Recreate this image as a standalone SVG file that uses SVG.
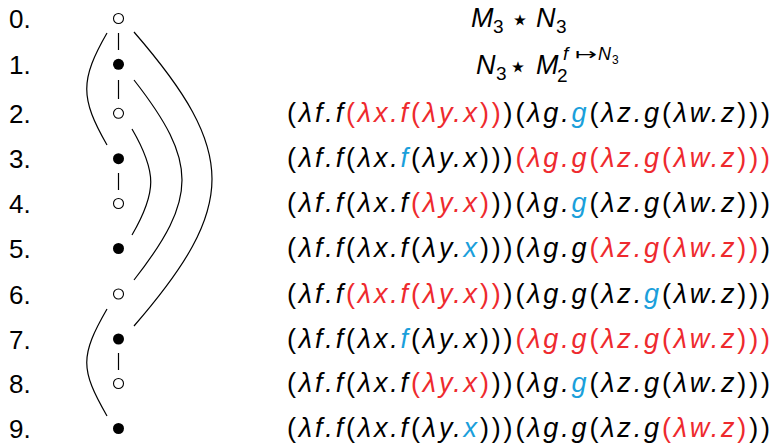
<svg xmlns="http://www.w3.org/2000/svg" width="773" height="443" viewBox="0 0 773 443">
<style>
.lbl{font-family:"Liberation Sans","DejaVu Sans",sans-serif;font-size:26px;fill:#000}
.m{font-family:"Liberation Sans","DejaVu Sans",sans-serif;font-size:27px;font-style:italic;fill:#000}
.u{font-style:normal}
.r{fill:#ee2a2e}
.b{fill:#1b9fdb}
.sub{font-family:"Liberation Sans","DejaVu Sans",sans-serif;font-size:19px;fill:#000}
.sym{font-family:"DejaVu Sans",sans-serif;font-size:31px;fill:#000}
.open{fill:#fff;stroke:#000;stroke-width:1.1}
.full{fill:#000}
.edge{fill:none;stroke:#000;stroke-width:1.2}
</style>
<rect width="773" height="443" fill="#fff"/>
<g id="labels">
<text class="lbl" x="9" y="28">0.</text>
<text class="lbl" x="9" y="74">1.</text>
<text class="lbl" x="9" y="123">2.</text>
<text class="lbl" x="9" y="168">3.</text>
<text class="lbl" x="9" y="213">4.</text>
<text class="lbl" x="9" y="258">5.</text>
<text class="lbl" x="9" y="303.5">6.</text>
<text class="lbl" x="9" y="348.5">7.</text>
<text class="lbl" x="9" y="393">8.</text>
<text class="lbl" x="9" y="438">9.</text>
</g>
<g id="connectors">
<line class="edge" x1="118.5" y1="33" x2="118.5" y2="50"/>
<line class="edge" x1="118.5" y1="80" x2="118.5" y2="99"/>
<line class="edge" x1="118.5" y1="173" x2="118.5" y2="190"/>
<line class="edge" x1="118.5" y1="353" x2="118.5" y2="370"/>
<path class="edge" d="M107,33 C80,80 80,98 107,145"/>
<path class="edge" d="M134,32 C238,152 238,206 134,326"/>
<path class="edge" d="M134,80 C198,162 198,198 134,280"/>
<path class="edge" d="M132,129 C157,172 157,192 132,235"/>
<path class="edge" d="M107,309 C80,356 80,369 107,416"/>
</g>
<g id="n0"><circle class="open" cx="118.5" cy="18.5" r="5"/></g>
<g id="n1"><circle class="full" cx="118.5" cy="64.3" r="5.5"/></g>
<g id="n2"><circle class="open" cx="118.5" cy="113.3" r="5"/></g>
<g id="n3"><circle class="full" cx="118.5" cy="158.7" r="5.5"/></g>
<g id="n4"><circle class="open" cx="118.5" cy="203.5" r="5"/></g>
<g id="n5"><circle class="full" cx="118.5" cy="248.5" r="5.5"/></g>
<g id="n6"><circle class="open" cx="118.5" cy="294" r="5"/></g>
<g id="n7"><circle class="full" cx="118.5" cy="339" r="5.5"/></g>
<g id="n8"><circle class="open" cx="118.5" cy="383.5" r="5"/></g>
<g id="n9"><circle class="full" cx="118.5" cy="428.5" r="5.5"/></g>
<g id="e0">
<text class="m" x="471" y="27">M</text>
<text class="sub" x="493" y="33">3</text>
<text class="sym" x="520" y="29.5" text-anchor="middle">⋆</text>
<text class="m" x="536" y="27">N</text>
<text class="sub" x="556" y="33">3</text>
</g>
<g id="e1">
<text class="m" x="476" y="74">N</text>
<text class="sub" x="496" y="80">3</text>
<text class="sym" x="518" y="76.5" text-anchor="middle">⋆</text>
<text class="m" x="536" y="74">M</text>
<text class="sub" x="557" y="82">2</text>
<text class="m" x="563" y="60" style="font-size:19px">f</text>
<text class="sym" x="575" y="60" style="font-size:17px" textLength="22" lengthAdjust="spacingAndGlyphs">↦</text>
<text class="m" x="598" y="60" style="font-size:18px">N</text>
<text class="sub" x="612" y="64" style="font-size:12px">3</text>
</g>
<g id="e2"><text class="m" x="287" y="122" textLength="483" lengthAdjust="spacing"><tspan class="u">(</tspan>λf.f<tspan class="r"><tspan class="u">(</tspan>λx.f<tspan class="u">(</tspan>λy.x<tspan class="u">))</tspan></tspan><tspan class="u">)(</tspan>λg.<tspan class="b">g</tspan><tspan class="u">(</tspan>λz.g<tspan class="u">(</tspan>λw.z<tspan class="u">)))</tspan></text></g>
<g id="e3"><text class="m" x="287" y="167" textLength="483" lengthAdjust="spacing"><tspan class="u">(</tspan>λf.f<tspan class="u">(</tspan>λx.<tspan class="b">f</tspan><tspan class="u">(</tspan>λy.x<tspan class="u">)))</tspan><tspan class="r"><tspan class="u">(</tspan>λg.g<tspan class="u">(</tspan>λz.g<tspan class="u">(</tspan>λw.z<tspan class="u">)))</tspan></tspan></text></g>
<g id="e4"><text class="m" x="287" y="212" textLength="483" lengthAdjust="spacing"><tspan class="u">(</tspan>λf.f<tspan class="u">(</tspan>λx.f<tspan class="r"><tspan class="u">(</tspan>λy.x<tspan class="u">)</tspan></tspan><tspan class="u">))(</tspan>λg.<tspan class="b">g</tspan><tspan class="u">(</tspan>λz.g<tspan class="u">(</tspan>λw.z<tspan class="u">)))</tspan></text></g>
<g id="e5"><text class="m" x="287" y="257" textLength="483" lengthAdjust="spacing"><tspan class="u">(</tspan>λf.f<tspan class="u">(</tspan>λx.f<tspan class="u">(</tspan>λy.<tspan class="b">x</tspan><tspan class="u">)))(</tspan>λg.g<tspan class="r"><tspan class="u">(</tspan>λz.g<tspan class="u">(</tspan>λw.z<tspan class="u">))</tspan></tspan><tspan class="u">)</tspan></text></g>
<g id="e6"><text class="m" x="287" y="302.5" textLength="483" lengthAdjust="spacing"><tspan class="u">(</tspan>λf.f<tspan class="r"><tspan class="u">(</tspan>λx.f<tspan class="u">(</tspan>λy.x<tspan class="u">))</tspan></tspan><tspan class="u">)(</tspan>λg.g<tspan class="u">(</tspan>λz.<tspan class="b">g</tspan><tspan class="u">(</tspan>λw.z<tspan class="u">)))</tspan></text></g>
<g id="e7"><text class="m" x="287" y="347.5" textLength="483" lengthAdjust="spacing"><tspan class="u">(</tspan>λf.f<tspan class="u">(</tspan>λx.<tspan class="b">f</tspan><tspan class="u">(</tspan>λy.x<tspan class="u">)))</tspan><tspan class="r"><tspan class="u">(</tspan>λg.g<tspan class="u">(</tspan>λz.g<tspan class="u">(</tspan>λw.z<tspan class="u">)))</tspan></tspan></text></g>
<g id="e8"><text class="m" x="287" y="392" textLength="483" lengthAdjust="spacing"><tspan class="u">(</tspan>λf.f<tspan class="u">(</tspan>λx.f<tspan class="r"><tspan class="u">(</tspan>λy.x<tspan class="u">)</tspan></tspan><tspan class="u">))(</tspan>λg.<tspan class="b">g</tspan><tspan class="u">(</tspan>λz.g<tspan class="u">(</tspan>λw.z<tspan class="u">)))</tspan></text></g>
<g id="e9"><text class="m" x="287" y="436.5" textLength="483" lengthAdjust="spacing"><tspan class="u">(</tspan>λf.f<tspan class="u">(</tspan>λx.f<tspan class="u">(</tspan>λy.<tspan class="b">x</tspan><tspan class="u">)))(</tspan>λg.g<tspan class="u">(</tspan>λz.g<tspan class="r"><tspan class="u">(</tspan>λw.z<tspan class="u">)</tspan></tspan><tspan class="u">))</tspan></text></g>
</svg>
